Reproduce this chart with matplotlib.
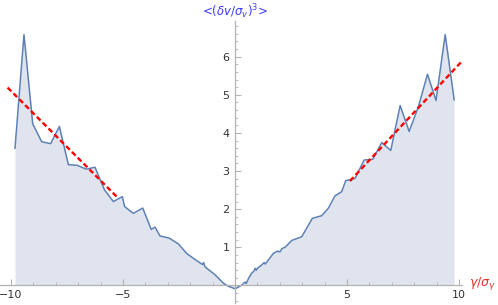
import numpy as np
from matplotlib import pyplot as plt

# curve, gamma/sigma_gamma vs <(dv/sigma_v)^3>
gam = [-9.82, -9.42, -9.03, -8.63, -8.23, -7.84, -7.44, -7.04, -6.64, -6.25,
       -5.83, -5.43, -5.03, -4.93, -4.54, -4.12, -3.74, -3.57, -3.35, -2.93,
       -2.53, -2.16, -1.71, -1.45, -1.40, -1.35, -1.26, -0.89, -0.52, -0.30,
       -0.08, 0.0, 0.15, 0.30, 0.45, 0.50, 0.60, 0.74, 0.85, 0.90, 0.95,
       1.00, 1.19, 1.30, 1.35, 1.50, 1.71, 1.80, 1.90, 2.00, 2.10, 2.23,
       2.53, 2.98, 3.45, 3.87, 4.17, 4.46, 4.76, 4.94, 5.13, 5.36, 5.76,
       6.15, 6.55, 6.95, 7.37, 7.77, 8.18, 8.59, 8.97, 9.38, 9.78]
skew = [3.60, 6.58, 4.24, 3.77, 3.72, 4.17, 3.17, 3.15, 3.05, 3.10,
        2.51, 2.20, 2.33, 2.07, 1.89, 2.03, 1.47, 1.53, 1.30, 1.24,
        1.09, 0.84, 0.65, 0.55, 0.60, 0.50, 0.45, 0.28, 0.06, -0.02,
        -0.07, -0.09, -0.04, 0.01, 0.09, 0.05, 0.18, 0.32, 0.38, 0.45, 0.40,
        0.45, 0.54, 0.60, 0.56, 0.68, 0.84, 0.87, 0.90, 0.88, 0.97, 1.00,
        1.18, 1.28, 1.76, 1.83, 2.03, 2.35, 2.46, 2.75, 2.77, 2.81, 3.29,
        3.31, 3.75, 3.54, 4.72, 4.04, 4.68, 5.54, 4.85, 6.58, 4.87]

# linear fits (red dashed)
fitL_x = [-10.15, -5.25]
fitL_y = [5.19, 2.31]
fitR_x = [5.13, 10.22]
fitR_y = [2.74, 5.94]

fig = plt.figure(figsize=(4.98, 3.05), dpi=100)
ax = fig.add_axes([0.0, 0.0066, 462 / 498, 0.925])

ax.fill_between(gam, skew, 0, color='#dfe4ee', lw=0)
ax.plot(gam, skew, color='#5e81b5', lw=1.1)
ax.plot(fitL_x, fitL_y, color='red', lw=1.7, dashes=(2.2, 1.3))
ax.plot(fitR_x, fitR_y, color='red', lw=1.7, dashes=(2.2, 1.3))

ax.set_xlim(-10.49, 10.13)
ax.set_ylim(-0.46, 6.94)

for s in ['top', 'right']:
    ax.spines[s].set_visible(False)
ax.spines['left'].set_position(('data', 0))
ax.spines['bottom'].set_position(('data', 0))
for s in ['left', 'bottom']:
    ax.spines[s].set_color('#b3b3b3')
    ax.spines[s].set_linewidth(0.9)

ax.set_xticks([-10, -5, 5, 10])
ax.set_xticks(np.arange(-10, 11, 1), minor=True)
ax.set_yticks([1, 2, 3, 4, 5, 6])
ax.set_yticks(np.arange(-0.4, 6.95, 0.2), minor=True)
ax.tick_params(which='both', direction='in', color='#b3b3b3', labelcolor='#333333',
               labelsize=8)
ax.tick_params(which='major', length=4, width=0.8)
ax.tick_params(which='minor', length=2.2, width=0.6)
ax.tick_params(axis='x', pad=3.5)
ax.tick_params(axis='y', pad=4)
ax.patch.set_alpha(0)

fig.text(235 / 498, 1 - 12 / 305, r'<($\delta v/\sigma_v$)$^3$>', color='#3a3aff',
         ha='center', va='center', fontsize=8.5)
fig.text(469 / 498, 1 - 284 / 305, r'$\gamma/\sigma_\gamma$', color='#e8302a',
         ha='left', va='center', fontsize=9)

plt.savefig('out.png', dpi=100)
